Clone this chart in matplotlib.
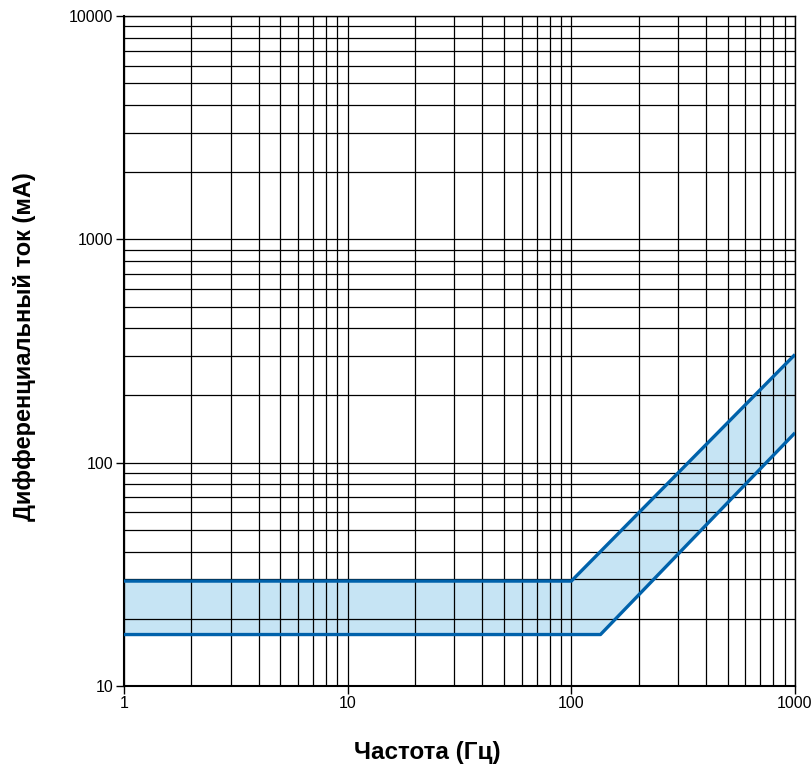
import matplotlib
matplotlib.use("Agg")
import matplotlib.pyplot as plt
import numpy as np
from matplotlib.ticker import LogLocator, NullFormatter, FixedLocator, FixedFormatter

# Data
upper_freq = [1, 100, 1000]
upper_current = [29.5, 29.5, 305]
lower_freq = [1, 135, 1000]
lower_current = [17, 17, 136]

x_ticks = [1, 10, 100, 1000]
x_tick_labels = ["1", "10", "100", "1000"]
y_ticks = [10, 100, 1000, 10000]
y_tick_labels = ["10", "100", "1000", "10000"]

plt.rcParams['font.family'] = ['Liberation Sans', 'DejaVu Sans']

fig = plt.figure(figsize=(8.12, 7.67), dpi=100)
ax = fig.add_axes([124/812, 81/767, (795-124)/812, (686-16)/767])
ax.set_xscale('log')
ax.set_yscale('log')
ax.set_xlim(1, 1000)
ax.set_ylim(10, 10000)

# fill between the two boundaries on a common set of frequencies
xs = sorted(set(upper_freq + lower_freq))
up = np.exp(np.interp(np.log(xs), np.log(upper_freq), np.log(upper_current)))
lo = np.exp(np.interp(np.log(xs), np.log(lower_freq), np.log(lower_current)))
ax.fill_between(xs, lo, up, color='#c6e4f4', zorder=1, linewidth=0)

ax.xaxis.set_minor_locator(LogLocator(base=10, subs=range(2, 10)))
ax.yaxis.set_minor_locator(LogLocator(base=10, subs=range(2, 10)))
ax.xaxis.set_minor_formatter(NullFormatter())
ax.yaxis.set_minor_formatter(NullFormatter())
ax.xaxis.set_major_locator(FixedLocator(x_ticks))
ax.xaxis.set_major_formatter(FixedFormatter(x_tick_labels))
ax.yaxis.set_major_locator(FixedLocator(y_ticks))
ax.yaxis.set_major_formatter(FixedFormatter(y_tick_labels))

ax.grid(True, which='both', color='black', linewidth=0.9, zorder=2)
ax.set_axisbelow(False)

ax.plot(upper_freq, upper_current, color='#0062ab', linewidth=2.4, zorder=3, solid_capstyle='butt')
ax.plot(lower_freq, lower_current, color='#0062ab', linewidth=2.4, zorder=3, solid_capstyle='butt')

ax.tick_params(which='major', direction='out', length=6, width=1, labelsize=11.5, pad=1.5)
ax.tick_params(which='minor', length=0)
for side in ['left', 'bottom']:
    ax.spines[side].set_linewidth(1.5)
for side in ['top', 'right']:
    ax.spines[side].set_linewidth(1.0)

ax.set_xlabel("Частота (Гц)", fontsize=17.5, fontweight='bold', labelpad=21)
ax.set_ylabel("Дифференциальный ток (мА)", fontsize=17, fontweight='bold', labelpad=24)
ax.xaxis.label.set_x(0.4516)
ax.yaxis.label.set_y(0.507)

fig.savefig("out.png", dpi=100)
